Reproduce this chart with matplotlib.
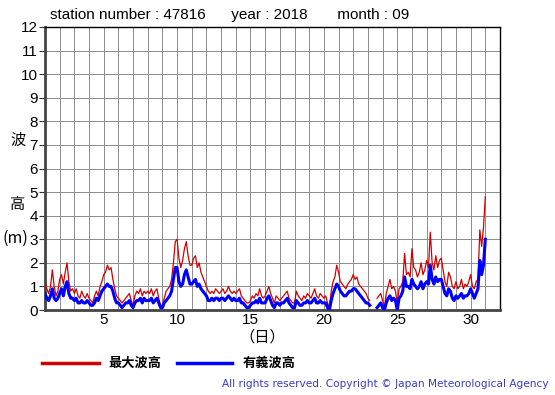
import numpy as np
import matplotlib.pyplot as plt

nan = np.nan

# 3-hourly readings (00,03,...,21 h) for each day of Sep 2018, plus the end point
max_wave = [
    [1.2, 0.9, 0.7, 1.0, 1.7, 1.0, 0.6, 0.8],   # 1
    [1.3, 1.5, 1.1, 1.6, 2.0, 1.2, 0.8, 0.9],   # 2
    [0.7, 0.9, 0.6, 0.5, 0.8, 0.6, 0.5, 0.7],   # 3
    [0.5, 0.4, 0.3, 0.6, 0.8, 0.6, 1.0, 1.2],   # 4
    [1.5, 1.6, 1.9, 1.7, 1.8, 1.3, 0.9, 0.6],   # 5
    [0.5, 0.4, 0.3, 0.4, 0.5, 0.6, 0.7, 0.4],   # 6
    [0.2, 0.6, 0.8, 0.7, 0.9, 0.6, 0.8, 0.7],   # 7
    [0.8, 0.7, 0.9, 0.6, 0.8, 0.9, 0.5, 0.2],   # 8
    [0.2, 0.5, 0.8, 0.9, 1.0, 1.3, 2.0, 2.9],   # 9
    [3.0, 2.2, 1.8, 2.1, 2.6, 2.9, 2.3, 1.9],   # 10
    [1.9, 2.2, 2.3, 1.8, 2.0, 1.6, 1.4, 1.2],   # 11
    [1.0, 0.8, 0.7, 0.8, 0.7, 0.9, 0.8, 0.7],   # 12
    [0.8, 0.9, 0.7, 0.8, 1.0, 0.8, 0.7, 0.8],   # 13
    [0.7, 0.8, 0.9, 0.6, 0.5, 0.4, 0.3, 0.3],   # 14
    [0.4, 0.6, 0.5, 0.7, 0.6, 0.9, 0.6, 0.5],   # 15
    [0.6, 0.8, 1.0, 0.7, 0.5, 0.3, 0.6, 0.5],   # 16
    [0.4, 0.5, 0.6, 0.7, 0.8, 0.5, 0.4, 0.3],   # 17
    [0.3, 0.8, 0.6, 0.5, 0.4, 0.6, 0.5, 0.7],   # 18
    [0.6, 0.5, 0.7, 0.9, 0.6, 0.5, 0.7, 0.6],   # 19
    [0.5, 0.6, 0.3, 0.1, 0.8, 1.2, 1.4, 1.9],   # 20
    [1.6, 1.2, 1.1, 1.0, 0.9, 1.1, 1.2, 1.3],   # 21
    [1.5, 1.3, 1.4, 1.1, 1.0, 0.9, 0.8, 0.7],   # 22
    [0.5, 0.4, nan, nan, nan, 0.5, 0.6, 0.7],   # 23
    [0.4, 0.1, 0.7, 1.0, 1.3, 0.9, 1.0, 0.8],   # 24
    [0.3, 0.9, 1.0, 1.2, 2.4, 1.5, 1.6, 1.4],   # 25
    [2.6, 1.8, 1.7, 1.4, 1.6, 2.0, 1.5, 1.7],   # 26
    [2.1, 1.8, 3.3, 2.0, 1.7, 2.3, 1.8, 2.1],   # 27
    [2.2, 1.7, 1.2, 1.0, 1.6, 1.4, 1.0, 0.9],   # 28
    [1.2, 0.9, 1.0, 1.3, 0.9, 1.1, 1.0, 1.2],   # 29
    [1.5, 1.0, 0.9, 1.2, 1.3, 3.4, 2.7, 3.5],   # 30
    [4.8],
]
sig_wave = [
    [0.7, 0.5, 0.4, 0.6, 0.9, 0.5, 0.4, 0.5],
    [0.7, 0.9, 0.6, 1.0, 1.2, 0.7, 0.5, 0.5],
    [0.4, 0.5, 0.3, 0.3, 0.4, 0.3, 0.3, 0.4],
    [0.3, 0.2, 0.2, 0.3, 0.5, 0.4, 0.6, 0.8],
    [0.9, 1.0, 1.1, 1.0, 1.0, 0.8, 0.5, 0.3],
    [0.3, 0.2, 0.1, 0.2, 0.3, 0.3, 0.4, 0.2],
    [0.1, 0.3, 0.4, 0.4, 0.5, 0.3, 0.5, 0.4],
    [0.4, 0.4, 0.5, 0.3, 0.4, 0.5, 0.3, 0.1],
    [0.1, 0.3, 0.4, 0.5, 0.6, 0.8, 1.3, 1.8],
    [1.8, 1.2, 1.0, 1.1, 1.5, 1.7, 1.4, 1.1],
    [1.1, 1.2, 1.3, 1.0, 1.1, 0.9, 0.8, 0.7],
    [0.6, 0.4, 0.4, 0.5, 0.4, 0.5, 0.5, 0.4],
    [0.5, 0.5, 0.4, 0.5, 0.6, 0.5, 0.4, 0.5],
    [0.4, 0.4, 0.5, 0.3, 0.3, 0.2, 0.1, 0.1],
    [0.2, 0.3, 0.3, 0.4, 0.3, 0.5, 0.3, 0.3],
    [0.3, 0.5, 0.6, 0.4, 0.2, 0.1, 0.3, 0.3],
    [0.2, 0.3, 0.3, 0.4, 0.5, 0.3, 0.2, 0.1],
    [0.1, 0.4, 0.3, 0.2, 0.2, 0.3, 0.3, 0.4],
    [0.3, 0.3, 0.4, 0.5, 0.3, 0.3, 0.4, 0.3],
    [0.3, 0.3, 0.1, 0.0, 0.4, 0.7, 0.9, 1.1],
    [1.0, 0.8, 0.7, 0.6, 0.6, 0.7, 0.8, 0.8],
    [0.9, 0.9, 0.8, 0.7, 0.6, 0.5, 0.4, 0.3],
    [0.3, 0.2, nan, nan, nan, 0.1, 0.2, 0.3],
    [0.1, 0.0, 0.3, 0.5, 0.6, 0.4, 0.5, 0.4],
    [0.0, 0.5, 0.6, 0.8, 1.4, 1.0, 1.0, 0.9],
    [1.3, 1.1, 1.0, 0.9, 1.0, 1.2, 0.9, 1.1],
    [1.2, 1.1, 1.9, 1.3, 1.1, 1.4, 1.2, 1.3],
    [1.3, 1.0, 0.7, 0.6, 0.9, 0.8, 0.5, 0.4],
    [0.6, 0.5, 0.6, 0.7, 0.5, 0.6, 0.6, 0.7],
    [0.9, 0.7, 0.5, 0.7, 0.9, 2.1, 1.5, 1.9],
    [3.0],
]

red = np.concatenate(max_wave)
blue = np.concatenate(sig_wave)
days = 1 + np.arange(len(red)) / 8.0

fig = plt.figure(figsize=(5.55, 3.95), dpi=100)
ax = fig.add_axes([45 / 555, 85 / 395, 455 / 555, 283 / 395])

ax.plot(days, red, color='#d00000', lw=0.9, zorder=3)
ax.plot(days, blue, color='#0000ff', lw=2.2, zorder=4)

ax.set_xlim(1, 32)
ax.set_ylim(0, 12)
ax.set_xticks(np.arange(1, 33), minor=True)
ax.set_xticks([5, 10, 15, 20, 25, 30])
ax.set_yticks(range(0, 13))
ax.grid(True, which='both', color='#8c8c8c', lw=0.7)
ax.tick_params(axis='x', which='both', length=0, labelsize=11, pad=2)
ax.tick_params(axis='y', length=4, labelsize=11, pad=1, color='#333333')
for lbl in ax.get_xticklabels() + ax.get_yticklabels():
    lbl.set_family('Liberation Sans')

for side in ['top', 'right']:
    ax.spines[side].set_color('black')
    ax.spines[side].set_linewidth(1.0)
for side in ['left', 'bottom']:
    ax.spines[side].set_color('#444444')
    ax.spines[side].set_linewidth(2.0)

jp = ['Noto Sans CJK JP', 'DejaVu Sans']
fig.text(50 / 555, 1 - 15 / 395, 'station number : 47816      year : 2018       month : 09',
         fontsize=11, family='Liberation Sans', va='center', ha='left')

fig.text(18 / 555, 1 - 140 / 395, '波', fontsize=11, family=jp, ha='center', va='center')
fig.text(18 / 555, 1 - 205 / 395, '高', fontsize=11, family=jp, ha='center', va='center')
fig.text(15 / 555, 1 - 238 / 395, '(m)', fontsize=11.5, family=jp, ha='center', va='center')
fig.text(262 / 555, 1 - 337 / 395, '（日）', fontsize=11, family=jp, ha='center', va='center')

# legend drawn by hand below the axes
fig.add_artist(plt.Line2D([42 / 555, 99 / 555], [1 - 363 / 395] * 2, color='#d00000', lw=2.5))
fig.text(108 / 555, 1 - 363 / 395, '最大波高', fontsize=9.5, weight='bold', family=jp, va='center')
fig.add_artist(plt.Line2D([177 / 555, 232 / 555], [1 - 363 / 395] * 2, color='#0000ff', lw=2.5))
fig.text(243 / 555, 1 - 363 / 395, '有義波高', fontsize=9.5, weight='bold', family=jp, va='center')

fig.text(549 / 555, 1 - 384 / 395, 'All rights reserved. Copyright © Japan Meteorological Agency',
         fontsize=7.6, color='#3a3acc', ha='right', va='center', family='DejaVu Sans')

fig.savefig('out.png', dpi=100)
